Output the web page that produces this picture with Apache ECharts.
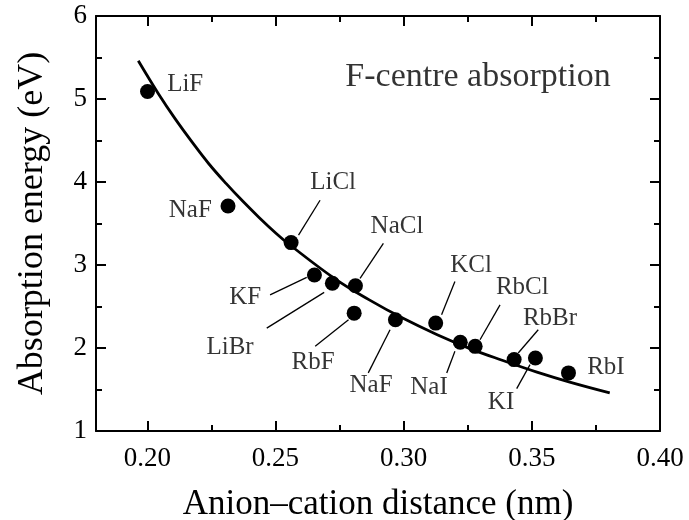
<!DOCTYPE html>
<html>
<head>
<meta charset="utf-8">
<script src="https://cdn.jsdelivr.net/npm/echarts@6/dist/echarts.min.js"></script>
<style>html,body{margin:0;padding:0;background:#fff;}#chart{width:689px;height:520px;}</style>
</head>
<body>
<div id="chart"></div>
<script>
// Data
const compounds = ["LiF","NaF","LiCl","KF","LiBr","NaCl","RbF","NaF","KCl","NaI","RbCl","KI","RbBr","RbI"];
const distance  = [0.2001,0.2315,0.2561,0.2652,0.2722,0.2812,0.2807,0.2968,0.3125,0.3221,0.3279,0.3431,0.3514,0.3643];
const energy    = [5.09,3.71,3.27,2.88,2.78,2.75,2.42,2.34,2.30,2.07,2.02,1.86,1.88,1.70];

// Fitted curve
const curveX = [0.1965,0.2044,0.2109,0.2175,0.2240,0.2308,0.2372,0.2437,0.2503,0.2553,0.2734,0.2866,0.2996,0.3131,0.3261,0.3387,0.3520,0.3648,0.3804];
const curveY = [5.46,5.06,4.76,4.48,4.22,3.98,3.77,3.57,3.38,3.25,2.83,2.58,2.36,2.16,1.99,1.85,1.71,1.59,1.46];

// Annotation text anchors (data units)
const labelText = ["LiF","NaF","LiCl","NaCl","KF","LiBr","RbF","NaF","KCl","NaI","RbCl","RbBr","KI","RbI"];
const labelX    = [0.2148,0.2168,0.2725,0.2974,0.2382,0.2323,0.2647,0.2873,0.3263,0.3099,0.3463,0.3571,0.3380,0.3789];
const labelY    = [5.17,3.66,3.99,3.46,2.61,2.01,1.83,1.55,3.00,1.52,2.73,2.36,1.35,1.76];

// Leader lines [x1,y1,x2,y2] (data units)
const leaders = [
  [0.2674,3.78,0.2590,3.36],
  [0.2921,3.26,0.2830,2.84],
  [0.2479,2.64,0.2622,2.85],
  [0.2466,2.24,0.2690,2.67],
  [0.2655,2.02,0.2785,2.34],
  [0.2862,1.70,0.2947,2.22],
  [0.3200,2.80,0.3148,2.40],
  [0.3168,1.70,0.3200,1.96],
  [0.3376,2.52,0.3298,2.10],
  [0.3525,2.22,0.3447,1.94],
  [0.3441,1.51,0.3493,1.80]
];

const titleText = "F-centre absorption";
const titlePos = [0.329, 5.27];

const xMajor = [0.20,0.25,0.30,0.35,0.40];
const xMinor = [0.225,0.275,0.325,0.375];
const xMin = 0.18, xMax = 0.40, yMin = 1, yMax = 6;

const FONT = "Liberation Serif";
const chart = echarts.init(document.getElementById('chart'), null, {renderer:'canvas'});

function xAx(pos, ticks, len, labels, line) {
  return {
    type:'value', position:pos, min:xMin, max:xMax,
    axisLine:{show:line, onZero:false, lineStyle:{color:'#000', width:2}},
    axisTick:{show:true, inside:true, length:len, customValues:ticks, lineStyle:{color:'#000', width:2}},
    axisLabel:{show:labels, customValues:ticks, margin:14, color:'#000', fontFamily:FONT, fontSize:27,
      formatter:v=>v.toFixed(2)},
    splitLine:{show:false},
    name: labels ? 'Anion\u2013cation distance (nm)' : '',
    nameLocation:'middle', nameGap:56,
    nameTextStyle:{color:'#000', fontFamily:FONT, fontSize:35}
  };
}
function yAx(pos, labels) {
  return {
    type:'value', position:pos, min:yMin, max:yMax, interval:1,
    axisLine:{show:true, onZero:false, lineStyle:{color:'#000', width:2}},
    axisTick:{show:true, inside:true, length:10, lineStyle:{color:'#000', width:2}},
    minorTick:{show:true, splitNumber:2, length:6, lineStyle:{color:'#000', width:2}},
    axisLabel:{show:labels, margin:9, color:'#000', fontFamily:FONT, fontSize:27},
    splitLine:{show:false}, minorSplitLine:{show:false},
    name: labels ? 'Absorption energy (eV)' : '',
    nameLocation:'middle', nameGap:45,
    nameTextStyle:{color:'#000', fontFamily:FONT, fontSize:36}
  };
}

const option = {
  backgroundColor:'#fff',
  animation:false,
  grid:{left:96, right:29, top:16, bottom:89, containLabel:false, outerBoundsMode:'none'},
  xAxis:[
    xAx('bottom', xMajor, 10, true, true),
    xAx('bottom', xMinor, 6, false, false),
    xAx('top', xMajor, 10, false, true),
    xAx('top', xMinor, 6, false, false)
  ],
  yAxis:[ yAx('left', true), yAx('right', false) ],
  series:[
    {
      type:'line', xAxisIndex:0, yAxisIndex:0,
      data: curveX.map((x,i)=>[x, curveY[i]]),
      smooth:0.4, showSymbol:false, symbol:'none',
      lineStyle:{color:'#000', width:2.8}, z:3
    },
    {
      type:'lines', coordinateSystem:'cartesian2d', xAxisIndex:0, yAxisIndex:0,
      data: leaders.map(l=>({coords:[[l[0],l[1]],[l[2],l[3]]]})),
      lineStyle:{color:'#000', width:1.3, opacity:1}, z:2
    },
    {
      type:'scatter', xAxisIndex:0, yAxisIndex:0,
      data: distance.map((x,i)=>({name:compounds[i], value:[x, energy[i]]})),
      symbol:'circle', symbolSize:15, itemStyle:{color:'#000', opacity:1}, z:4
    },
    {
      type:'scatter', xAxisIndex:0, yAxisIndex:0, silent:true,
      data: labelText.map((t,i)=>({name:t, value:[labelX[i], labelY[i]]}))
        .concat([{name:titleText, value:titlePos, label:{fontSize:34}}]),
      symbolSize:0,
      label:{show:true, position:'inside', formatter:p=>p.name, color:'#000', fontFamily:FONT, fontSize:25},
      z:5
    }
  ]
};
chart.setOption(option);
</script>
</body>
</html>
